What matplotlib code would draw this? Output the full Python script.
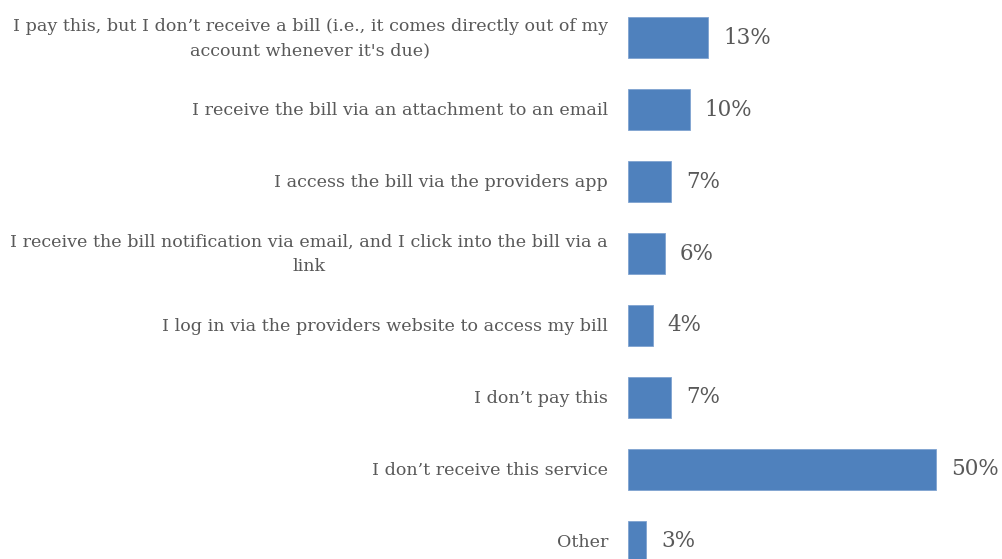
import matplotlib
matplotlib.use("Agg")
import matplotlib.pyplot as plt

categories = [
    "I pay this, but I don\u2019t receive a bill (i.e., it comes directly out of my\naccount whenever it's due)",
    "I receive the bill via an attachment to an email",
    "I access the bill via the providers app",
    "I receive the bill notification via email, and I click into the bill via a\nlink",
    "I log in via the providers website to access my bill",
    "I don\u2019t pay this",
    "I don\u2019t receive this service",
    "Other",
]
values = [13, 10, 7, 6, 4, 7, 50, 3]
value_labels = ["13%", "10%", "7%", "6%", "4%", "7%", "50%", "3%"]

BAR_COLOR = "#4F81BD"
TEXT_COLOR = "#595959"
FONT = "DejaVu Serif"

W, H = 1003, 559
fig = plt.figure(figsize=(W / 100, H / 100), dpi=100)
ax = fig.add_axes([628 / W, 0, 1 - 628 / W, 1])

ypos = list(range(len(categories)))
ax.barh(ypos, values, height=0.57, color=BAR_COLOR, edgecolor="#7fa3d0", linewidth=0.6)

ax.set_xlim(0, (W - 628) / 6.154)
ax.set_ylim((H - 37.8) / 71.9, -37.8 / 71.9)
ax.axis("off")

for y, cat, v, lab in zip(ypos, categories, values, value_labels):
    ax.annotate(cat, xy=(0, y), xycoords="data", xytext=(-20, -1), textcoords="offset pixels",
                ha="right", va="center", multialignment="center",
                fontsize=12.6, family=FONT, color=TEXT_COLOR, linespacing=1.55)
    ax.annotate(lab, xy=(v, y), xycoords="data", xytext=(15, 0), textcoords="offset pixels",
                ha="left", va="center", fontsize=15.5, family=FONT, color=TEXT_COLOR)

fig.savefig("out.png", dpi=100)
